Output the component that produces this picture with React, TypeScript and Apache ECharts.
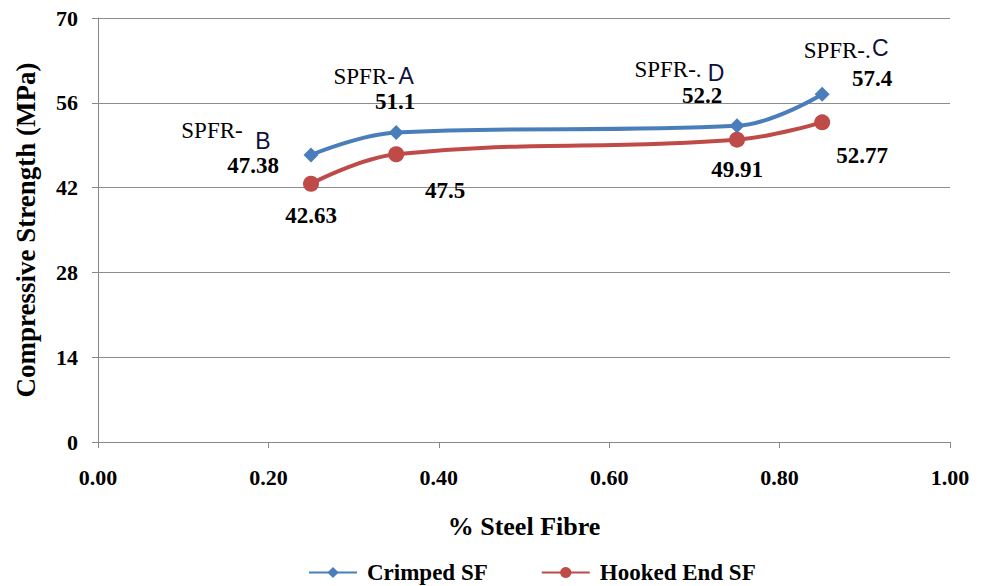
import React, { useEffect, useRef } from "react";
import * as echarts from "echarts";

const fibre = [0.25, 0.35, 0.75, 0.85];
const crimped = [47.38, 51.1, 52.2, 57.4];
const hooked = [42.63, 47.5, 49.91, 52.77];
const mixLetters = ["B", "A", "D", "C"];
const mixPrefix = ["SPFR-", "SPFR-", "SPFR-.", "SPFR-."];
const yTicks = [0, 14, 28, 42, 56, 70];
const xTicks = [0, 0.2, 0.4, 0.6, 0.8, 1.0];

const crimpedNumOffset = [[-58, 10], [-1, -31], [-35, -30], [50, -16]];
const hookedNumOffset = [[0, 32], [49, 36], [0, 30], [40, 33]];
const prefixOffset = [[-99, -25], [-32, -56], [-69, -56], [15, -44]];
const letterOffset = [[-48, -14], [10, -56], [-21, -53], [58, -46]];

const SERIF = "Liberation Serif, Times New Roman, serif";
const SANS = "Liberation Sans, Arial, sans-serif";

export default function App() {
  const ref = useRef<HTMLDivElement>(null);
  useEffect(() => {
    document.body.style.margin = "0";
    if (!ref.current) return;
    const chart = echarts.init(ref.current, null, { renderer: "svg" });
    const numLabel = {
      show: true,
      position: "inside",
      fontFamily: SERIF,
      fontWeight: "bold",
      fontSize: 23,
      color: "#000",
    };
    chart.setOption({
      animation: false,
      backgroundColor: "#fff",
      grid: { left: 98, right: 34, top: 18, bottom: 144 },
      xAxis: {
        type: "value",
        min: xTicks[0],
        max: xTicks[xTicks.length - 1],
        interval: 0.2,
        name: "% Steel Fibre",
        nameLocation: "middle",
        nameGap: 71,
        nameTextStyle: { fontFamily: SERIF, fontWeight: "bold", fontSize: 26, color: "#000" },
        axisLine: { show: true, lineStyle: { color: "#888", width: 1 } },
        axisTick: { show: true, length: 6, lineStyle: { color: "#888" } },
        splitLine: { show: false },
        axisLabel: {
          margin: 24,
          fontFamily: SERIF,
          fontWeight: "bold",
          fontSize: 22,
          color: "#000",
          formatter: (v: number) => v.toFixed(2),
        },
      },
      yAxis: {
        type: "value",
        min: yTicks[0],
        max: yTicks[yTicks.length - 1],
        interval: 14,
        name: "Compressive Strength (MPa)",
        nameLocation: "middle",
        nameGap: 59,
        nameTextStyle: { fontFamily: SERIF, fontWeight: "bold", fontSize: 27, color: "#000" },
        axisLine: { show: true, lineStyle: { color: "#888", width: 1 } },
        axisTick: { show: true, length: 6, lineStyle: { color: "#888" } },
        splitLine: { show: true, lineStyle: { color: "#8c8c8c", width: 1 } },
        axisLabel: {
          margin: 20,
          fontFamily: SERIF,
          fontWeight: "bold",
          fontSize: 22,
          color: "#000",
        },
      },
      legend: {
        data: ["Crimped SF", "Hooked End SF"],
        left: 308,
        top: 561,
        padding: 0,
        itemWidth: 48,
        itemHeight: 14,
        itemGap: 53,
        textStyle: { fontFamily: SERIF, fontWeight: "bold", fontSize: 23, color: "#000", padding: [0, 0, 0, 5] },
      },
      series: [
        {
          name: "Crimped SF",
          type: "line",
          smooth: 0.4,
          symbol: "diamond",
          symbolSize: 15,
          lineStyle: { color: "#4A7EBB", width: 4 },
          itemStyle: { color: "#4A7EBB" },
          data: fibre.map((x, i) => ({
            value: [x, crimped[i]],
            label: { ...numLabel, offset: crimpedNumOffset[i], formatter: String(crimped[i]) },
          })),
          z: 3,
        },
        {
          name: "Hooked End SF",
          type: "line",
          smooth: 0.4,
          symbol: "circle",
          symbolSize: 16,
          lineStyle: { color: "#BE4B48", width: 4 },
          itemStyle: { color: "#BE4B48" },
          data: fibre.map((x, i) => ({
            value: [x, hooked[i]],
            label: { ...numLabel, offset: hookedNumOffset[i], formatter: String(hooked[i]) },
          })),
          z: 2,
        },
        {
          name: "mixPrefix",
          type: "line",
          symbol: "circle",
          symbolSize: 1,
          silent: true,
          lineStyle: { width: 0, opacity: 0 },
          itemStyle: { color: "rgba(0,0,0,0)" },
          label: {
            show: true,
            position: "inside",
            fontFamily: SERIF,
            fontWeight: 400,
            fontSize: 23,
            color: "#000",
          },
          data: fibre.map((x, i) => ({
            value: [x, crimped[i]],
            label: { offset: prefixOffset[i], formatter: mixPrefix[i] },
          })),
          z: 4,
        },
        {
          name: "mixLetter",
          type: "line",
          symbol: "circle",
          symbolSize: 1,
          silent: true,
          lineStyle: { width: 0, opacity: 0 },
          itemStyle: { color: "rgba(0,0,0,0)" },
          label: {
            show: true,
            position: "inside",
            fontFamily: SANS,
            fontWeight: 400,
            fontSize: 23,
            color: "#10103a",
          },
          data: fibre.map((x, i) => ({
            value: [x, crimped[i]],
            label: { offset: letterOffset[i], formatter: mixLetters[i] },
          })),
          z: 4,
        },
      ],
    });
    return () => chart.dispose();
  }, []);
  return <div ref={ref} style={{ width: 984, height: 586 }} />;
}
